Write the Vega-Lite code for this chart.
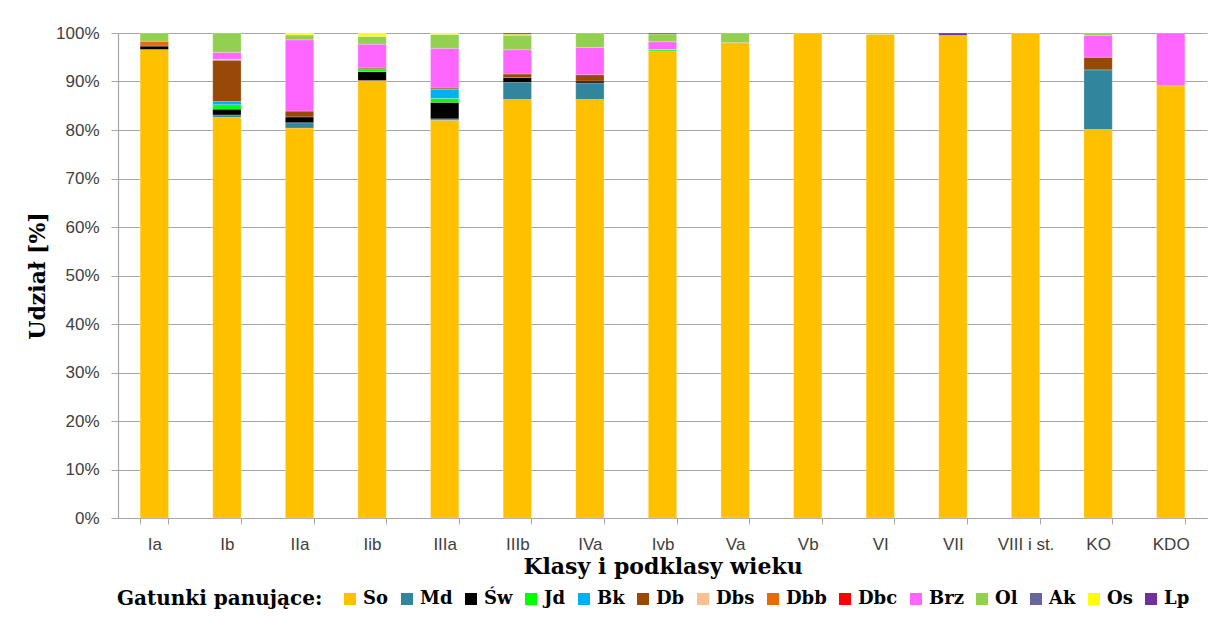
{
  "$schema": "https://vega.github.io/schema/vega-lite/v6.json",
  "autosize": {"type": "none"},
  "padding": {"left": 118, "top": 33, "right": 23, "bottom": 102},
  "width": 1089,
  "height": 485,
  "background": "white",
  "config": {
    "view": {"stroke": null},
    "font": "Liberation Sans"
  },
  "data": {
    "values": [
      {"klasa": "Ia", "gatunek": "So", "udzial": 96.6},
      {"klasa": "Ia", "gatunek": "Św", "udzial": 0.7},
      {"klasa": "Ia", "gatunek": "Dbb", "udzial": 1.0},
      {"klasa": "Ia", "gatunek": "Ol", "udzial": 1.7},
      {"klasa": "Ib", "gatunek": "So", "udzial": 82.6},
      {"klasa": "Ib", "gatunek": "Md", "udzial": 0.5},
      {"klasa": "Ib", "gatunek": "Św", "udzial": 1.2},
      {"klasa": "Ib", "gatunek": "Jd", "udzial": 0.9},
      {"klasa": "Ib", "gatunek": "Bk", "udzial": 0.7},
      {"klasa": "Ib", "gatunek": "Db", "udzial": 8.5},
      {"klasa": "Ib", "gatunek": "Dbs", "udzial": 0.2},
      {"klasa": "Ib", "gatunek": "Brz", "udzial": 1.4},
      {"klasa": "Ib", "gatunek": "Ol", "udzial": 4.0},
      {"klasa": "IIa", "gatunek": "So", "udzial": 80.4},
      {"klasa": "IIa", "gatunek": "Md", "udzial": 1.1},
      {"klasa": "IIa", "gatunek": "Św", "udzial": 1.2},
      {"klasa": "IIa", "gatunek": "Db", "udzial": 1.2},
      {"klasa": "IIa", "gatunek": "Brz", "udzial": 14.7},
      {"klasa": "IIa", "gatunek": "Ol", "udzial": 1.0},
      {"klasa": "IIa", "gatunek": "Os", "udzial": 0.4},
      {"klasa": "Iib", "gatunek": "So", "udzial": 90.2},
      {"klasa": "Iib", "gatunek": "Św", "udzial": 1.85},
      {"klasa": "Iib", "gatunek": "Jd", "udzial": 0.55},
      {"klasa": "Iib", "gatunek": "Db", "udzial": 0.2},
      {"klasa": "Iib", "gatunek": "Brz", "udzial": 4.9},
      {"klasa": "Iib", "gatunek": "Ol", "udzial": 1.6},
      {"klasa": "Iib", "gatunek": "Os", "udzial": 0.7},
      {"klasa": "IIIa", "gatunek": "So", "udzial": 82.0},
      {"klasa": "IIIa", "gatunek": "Md", "udzial": 0.3},
      {"klasa": "IIIa", "gatunek": "Św", "udzial": 3.4},
      {"klasa": "IIIa", "gatunek": "Jd", "udzial": 0.8},
      {"klasa": "IIIa", "gatunek": "Bk", "udzial": 1.85},
      {"klasa": "IIIa", "gatunek": "Db", "udzial": 0.3},
      {"klasa": "IIIa", "gatunek": "Brz", "udzial": 8.2},
      {"klasa": "IIIa", "gatunek": "Ol", "udzial": 2.85},
      {"klasa": "IIIa", "gatunek": "Os", "udzial": 0.3},
      {"klasa": "IIIb", "gatunek": "So", "udzial": 86.3},
      {"klasa": "IIIb", "gatunek": "Md", "udzial": 3.5},
      {"klasa": "IIIb", "gatunek": "Św", "udzial": 1.0},
      {"klasa": "IIIb", "gatunek": "Db", "udzial": 0.75},
      {"klasa": "IIIb", "gatunek": "Brz", "udzial": 5.0},
      {"klasa": "IIIb", "gatunek": "Ol", "udzial": 3.0},
      {"klasa": "IIIb", "gatunek": "Os", "udzial": 0.2},
      {"klasa": "IIIb", "gatunek": "Lp", "udzial": 0.25},
      {"klasa": "IVa", "gatunek": "So", "udzial": 86.3},
      {"klasa": "IVa", "gatunek": "Md", "udzial": 3.4},
      {"klasa": "IVa", "gatunek": "Św", "udzial": 0.4},
      {"klasa": "IVa", "gatunek": "Db", "udzial": 1.3},
      {"klasa": "IVa", "gatunek": "Brz", "udzial": 5.6},
      {"klasa": "IVa", "gatunek": "Ol", "udzial": 3.0},
      {"klasa": "Ivb", "gatunek": "So", "udzial": 96.3},
      {"klasa": "Ivb", "gatunek": "Jd", "udzial": 0.3},
      {"klasa": "Ivb", "gatunek": "Brz", "udzial": 1.6},
      {"klasa": "Ivb", "gatunek": "Ol", "udzial": 1.6},
      {"klasa": "Ivb", "gatunek": "Lp", "udzial": 0.2},
      {"klasa": "Va", "gatunek": "So", "udzial": 98.0},
      {"klasa": "Va", "gatunek": "Ol", "udzial": 2.0},
      {"klasa": "Vb", "gatunek": "So", "udzial": 100.0},
      {"klasa": "VI", "gatunek": "So", "udzial": 99.7},
      {"klasa": "VI", "gatunek": "Ol", "udzial": 0.3},
      {"klasa": "VII", "gatunek": "So", "udzial": 99.5},
      {"klasa": "VII", "gatunek": "Lp", "udzial": 0.5},
      {"klasa": "VIII i st.", "gatunek": "So", "udzial": 100.0},
      {"klasa": "KO", "gatunek": "So", "udzial": 80.1},
      {"klasa": "KO", "gatunek": "Md", "udzial": 12.3},
      {"klasa": "KO", "gatunek": "Db", "udzial": 2.6},
      {"klasa": "KO", "gatunek": "Brz", "udzial": 4.5},
      {"klasa": "KO", "gatunek": "Ol", "udzial": 0.5},
      {"klasa": "KDO", "gatunek": "So", "udzial": 89.1},
      {"klasa": "KDO", "gatunek": "Brz", "udzial": 10.9}
    ]
  },
  "transform": [
    {"calculate": "indexof(['So','Md','Św','Jd','Bk','Db','Dbs','Dbb','Dbc','Brz','Ol','Ak','Os','Lp'], datum.gatunek)", "as": "kolejnosc"}
  ],
  "mark": {"type": "bar", "stroke": "white", "strokeWidth": 0.4, "strokeOpacity": 0.6},
  "encoding": {
    "x": {
      "field": "klasa",
      "type": "nominal",
      "sort": ["Ia", "Ib", "IIa", "Iib", "IIIa", "IIIb", "IVa", "Ivb", "Va", "Vb", "VI", "VII", "VIII i st.", "KO", "KDO"],
      "scale": {"paddingInner": 0.61, "paddingOuter": 0.305},
      "axis": {
        "title": "Klasy i podklasy wieku",
        "titleFont": "DejaVu Serif",
        "titleFontWeight": "bold",
        "titleFontSize": 22,
        "titleColor": "#000000",
        "titlePadding": 4,
        "labelAngle": 0,
        "labelFont": "Liberation Sans",
        "labelFontSize": 17,
        "labelColor": "#404040",
        "labelPadding": 12,
        "tickBand": "extent",
        "tickSize": 6,
        "tickColor": "#a6a6a6",
        "domainColor": "#a6a6a6",
        "domainWidth": 1.2
      }
    },
    "y": {
      "field": "udzial",
      "type": "quantitative",
      "stack": "normalize",
      "scale": {"domain": [0, 1]},
      "axis": {
        "title": "Udział [%]",
        "titleFont": "DejaVu Serif",
        "titleFontWeight": "bold",
        "titleFontSize": 22,
        "titleColor": "#000000",
        "titlePadding": 6,
        "format": ".0%",
        "values": [0, 0.1, 0.2, 0.3, 0.4, 0.5, 0.6, 0.7, 0.8, 0.9, 1],
        "labelFont": "Liberation Sans",
        "labelFontSize": 17,
        "labelColor": "#404040",
        "labelPadding": 12,
        "tickSize": 7,
        "tickColor": "#a6a6a6",
        "domainColor": "#a6a6a6",
        "domainWidth": 1.2,
        "grid": true,
        "gridColor": "#a6a6a6",
        "gridWidth": 1.2
      }
    },
    "color": {
      "field": "gatunek",
      "type": "nominal",
      "sort": ["So", "Md", "Św", "Jd", "Bk", "Db", "Dbs", "Dbb", "Dbc", "Brz", "Ol", "Ak", "Os", "Lp"],
      "scale": {
        "domain": ["So", "Md", "Św", "Jd", "Bk", "Db", "Dbs", "Dbb", "Dbc", "Brz", "Ol", "Ak", "Os", "Lp"],
        "range": ["#FFC000", "#31859C", "#000000", "#00FF00", "#00B0F0", "#984807", "#FAC090", "#E46C0A", "#FF0000", "#FF66FF", "#92D050", "#66669A", "#FFFF00", "#7030A0"]
      },
      "legend": {
        "title": "Gatunki panujące:",
        "orient": "none",
        "legendX": -1,
        "legendY": 557,
        "direction": "horizontal",
        "columns": 14,
        "titleOrient": "left",
        "titleLimit": 0,
        "titleFont": "DejaVu Serif",
        "titleFontWeight": "bold",
        "titleFontSize": 20,
        "titleColor": "#000000",
        "titlePadding": 18,
        "titleBaseline": "middle",
        "labelFont": "DejaVu Serif",
        "labelFontWeight": "bold",
        "labelFontSize": 18,
        "labelColor": "#000000",
        "labelOffset": 4,
        "columnPadding": 9,
        "symbolType": "square",
        "symbolSize": 144,
        "symbolStrokeWidth": 0
      }
    },
    "order": {"field": "kolejnosc", "type": "quantitative", "sort": "ascending"}
  }
}
